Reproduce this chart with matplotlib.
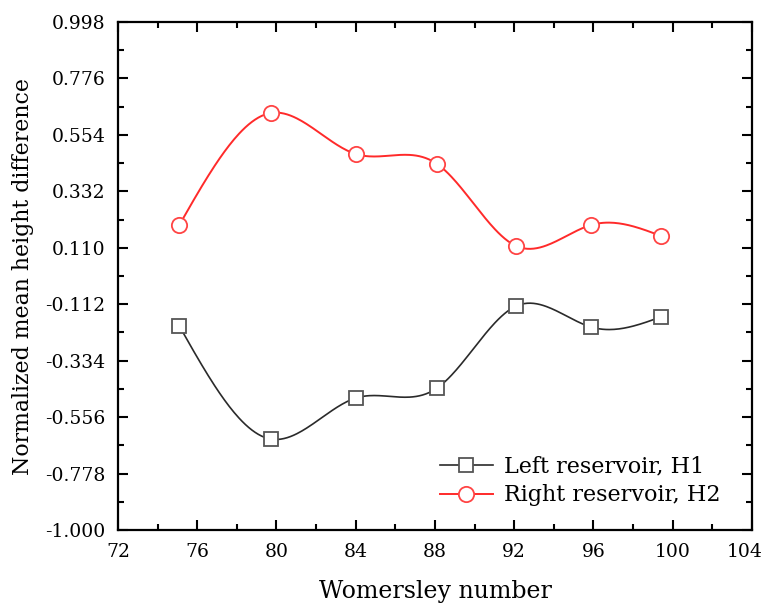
import matplotlib
matplotlib.use("Agg")
import matplotlib.pyplot as plt
import matplotlib.transforms as mtransforms
import numpy as np

# ---- data ----
wo = [75.1, 79.7, 84.0, 88.1, 92.1, 95.9, 99.4]
h1 = [-0.198, -0.642, -0.481, -0.442, -0.119, -0.202, -0.162]
h2 = [0.200, 0.640, 0.479, 0.440, 0.117, 0.200, 0.157]
yticks = [-1.000, -0.778, -0.556, -0.334, -0.112, 0.110, 0.332, 0.554, 0.776, 0.998]


def natural_spline(x, y, n=300):
    """natural cubic spline through the points (drawing only)"""
    x = np.asarray(x, float); y = np.asarray(y, float)
    k = len(x); h = np.diff(x)
    A = np.zeros((k, k)); r = np.zeros(k)
    A[0, 0] = A[-1, -1] = 1
    for i in range(1, k - 1):
        A[i, i - 1] = h[i - 1]; A[i, i] = 2 * (h[i - 1] + h[i]); A[i, i + 1] = h[i]
        r[i] = 6 * ((y[i + 1] - y[i]) / h[i] - (y[i] - y[i - 1]) / h[i - 1])
    M = np.linalg.solve(A, r)
    xs = np.linspace(x[0], x[-1], n)
    idx = np.clip(np.searchsorted(x, xs) - 1, 0, k - 2)
    x0, x1 = x[idx], x[idx + 1]; hh = x1 - x0
    a = (x1 - xs) / hh; b = (xs - x0) / hh
    ys = a * y[idx] + b * y[idx + 1] + ((a**3 - a) * M[idx] + (b**3 - b) * M[idx + 1]) * hh**2 / 6
    return xs, ys


plt.rcParams["font.family"] = ["DejaVu Serif"]

fig = plt.figure(figsize=(7.68, 6.03), dpi=100)
ax = fig.add_axes([0.1536, 0.121, 0.8255, 0.8425])

xs, ys = natural_spline(wo, h1)
ax.plot(xs, ys, "-", color="#2a2a2a", lw=1.2)
xs, ys = natural_spline(wo, h2)
ax.plot(xs, ys, "-", color="#ff2a2a", lw=1.4)
ax.plot(wo, h1, "s", ms=10, mfc="white", mec="#555555", mew=1.3)
ax.plot(wo, h2, "o", ms=11, mfc="white", mec="#ff4444", mew=1.3)

# legend handles
ax.plot([], [], "-s", color="#2a2a2a", lw=1.2, ms=10, mfc="white", mec="#555555",
        mew=1.3, label="Left reservoir, H1")
ax.plot([], [], "-o", color="#ff2a2a", lw=1.4, ms=11, mfc="white", mec="#ff4444",
        mew=1.3, label="Right reservoir, H2")
ax.legend(loc="lower right", frameon=False, fontsize=16, handlelength=2.4,
          handletextpad=0.5, borderaxespad=0.3, labelspacing=0.3,
          bbox_to_anchor=(0.975, 0.016))

ax.set_xlim(72, 104)
ax.set_ylim(-1.000, 0.998)
ax.set_xticks(np.arange(72, 105, 4))
ax.set_xticks(np.arange(74, 104, 4), minor=True)
ax.set_yticks(yticks)
ax.set_yticklabels([f"{v:.3f}" for v in yticks])
ax.set_yticks([(yticks[i] + yticks[i + 1]) / 2 for i in range(len(yticks) - 1)], minor=True)
ax.tick_params(which="both", direction="in", top=True, right=True, labelsize=13.5, width=1.5)
ax.tick_params(which="major", length=7)
ax.tick_params(which="minor", length=4)
ax.tick_params(axis="x", pad=9)
ax.tick_params(axis="y", pad=9)
for s in ax.spines.values():
    s.set_linewidth(1.6)

# keep "104" inside the figure edge
fig.canvas.draw()
last = ax.get_xticklabels()[-1]
last.set_transform(last.get_transform() + mtransforms.ScaledTranslation(-5 / 72, 0, fig.dpi_scale_trans))

ax.set_xlabel("Womersley number", fontsize=17, labelpad=14)
ax.set_ylabel("Normalized mean height difference", fontsize=15.8, labelpad=8)

fig.savefig("out.png", dpi=100)
